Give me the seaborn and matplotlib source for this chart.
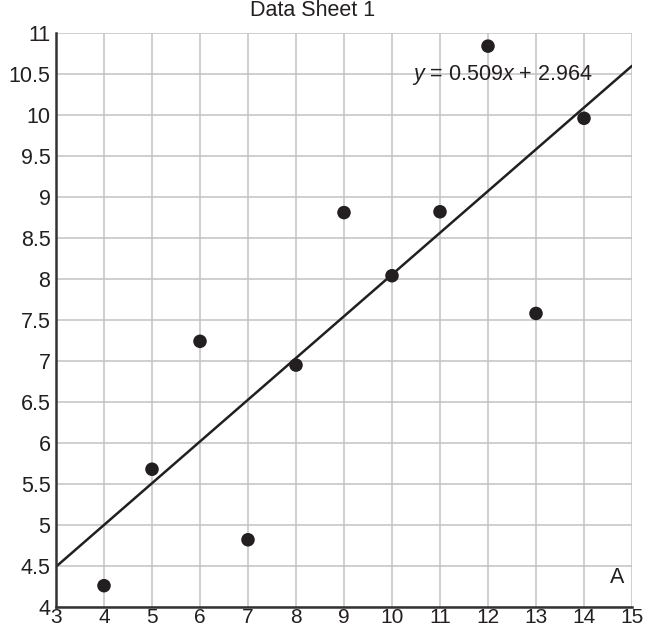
import numpy as np
import pandas as pd
import seaborn as sns
import matplotlib.pyplot as plt

# Data Sheet 1 values
x_vals = [10, 8, 13, 9, 11, 14, 6, 4, 12, 7, 5]
y_vals = [8.04, 6.95, 7.58, 8.81, 8.82, 9.96, 7.24, 4.26, 10.84, 4.82, 5.68]
x_ticks = list(range(3, 16))
y_ticks = [4, 4.5, 5, 5.5, 6, 6.5, 7, 7.5, 8, 8.5, 9, 9.5, 10, 10.5, 11]

df = pd.DataFrame({'x': x_vals, 'y': y_vals})

sns.set_style("white")
plt.rcParams['font.family'] = ['Liberation Sans', 'DejaVu Sans']
plt.rcParams['mathtext.fontset'] = 'custom'
plt.rcParams['mathtext.it'] = 'Liberation Sans:italic'
plt.rcParams['mathtext.rm'] = 'Liberation Sans'

ink = '#231f20'
fs = 15.5
fig = plt.figure(figsize=(6.47, 6.32), dpi=100)
ax = fig.add_axes([56 / 647, 1 - 607 / 632, 576 / 647, 574 / 632])
ax.set_xlim(3, 15)
ax.set_ylim(4, 11)

# fitted line across the full x range
sns.regplot(data=df, x='x', y='y', ax=ax, ci=None, truncate=False,
            scatter=False, line_kws={'color': ink, 'lw': 1.8})
sns.scatterplot(data=df, x='x', y='y', ax=ax, color=ink, s=95,
                edgecolor='none', zorder=5)

fit = np.polyfit(x_vals, y_vals, 1)
ax.text(12.3, 10.49, r"$y$ = %.3f$x$ + %.3f" % (fit[0], fit[1]),
        ha='center', va='center', fontsize=fs, color=ink)
ax.text(14.7, 4.36, "A", ha='center', va='center', fontsize=fs, color=ink)

ax.set_xticks(x_ticks)
ax.set_yticks(y_ticks)
ax.set_yticklabels([f"{v:g}" for v in y_ticks])
ax.grid(True, color='#c2c2c4', lw=1.1)
ax.set_axisbelow(True)
ax.tick_params(direction='in', length=4, width=1.2, color=ink,
               labelsize=fs, labelcolor=ink)
ax.tick_params(axis='y', pad=4)
ax.tick_params(axis='x', pad=0.5, labelsize=15)
for s in ['top', 'right']:
    ax.spines[s].set_visible(False)
for s in ['left', 'bottom']:
    ax.spines[s].set_color('#333333')
    ax.spines[s].set_linewidth(1.8)
ax.set_xlabel('')
ax.set_ylabel('')

fig.text(313 / 647, 1 - 11 / 632, "Data Sheet 1", ha='center', va='center',
         fontsize=fs, color=ink)

fig.savefig('out.png', dpi=100)
